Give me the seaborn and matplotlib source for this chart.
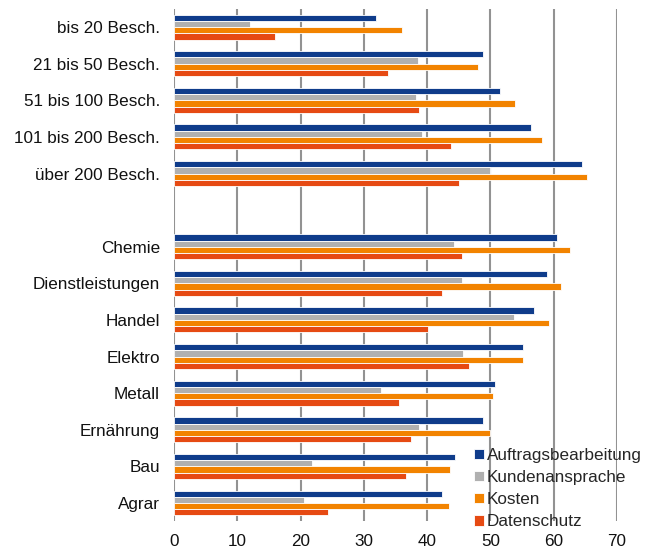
import pandas as pd
import seaborn as sns
import matplotlib.pyplot as plt
from matplotlib.ticker import MultipleLocator

categories = ['bis 20 Besch.', '21 bis 50 Besch.', '51 bis 100 Besch.', '101 bis 200 Besch.',
              'über 200 Besch.', '', 'Chemie', 'Dienstleistungen', 'Handel', 'Elektro',
              'Metall', 'Ernährung', 'Bau', 'Agrar']
series = ['Auftragsbearbeitung', 'Kundenansprache', 'Kosten', 'Datenschutz']

auftrag = [32.0, 48.8, 51.6, 56.4, 64.5, None, 60.5, 58.9, 56.9, 55.1, 50.7, 48.8, 44.4, 42.3]
kunden = [12.0, 38.6, 38.3, 39.2, 50.0, None, 44.2, 45.6, 53.7, 45.7, 32.7, 38.8, 21.8, 20.5]
kosten = [36.0, 48.0, 53.9, 58.2, 65.3, None, 62.6, 61.1, 59.3, 55.1, 50.4, 50.0, 43.7, 43.5]
datenschutz = [16.0, 33.9, 38.7, 43.8, 45.0, None, 45.6, 42.3, 40.2, 46.7, 35.5, 37.4, 36.6, 24.4]

colors = ['#0f3c8b', '#b0b0b0', '#f28300', '#e64a13']

rows = []
for name, vals in zip(series, [auftrag, kunden, kosten, datenschutz]):
    for cat, v in zip(categories, vals):
        if v is not None:
            rows.append({'Kategorie': cat, 'Wert': v, 'Reihe': name})
df = pd.DataFrame(rows)

sns.set_style('white')
plt.rcParams['font.family'] = ['Liberation Sans', 'DejaVu Sans']

fig = plt.figure(figsize=(6.59, 5.51), dpi=100)
ax = fig.add_axes([0.264, 0.054, 0.672, 0.930])
sns.barplot(data=df, y='Kategorie', x='Wert', hue='Reihe', order=categories,
            hue_order=series, palette=colors, orient='h', width=0.68, saturation=1,
            edgecolor='white', linewidth=0.6, ax=ax, legend=True)

ax.set_xlim(0, 70)
ax.set_ylim(len(categories) - 0.5, -0.5)
ax.xaxis.set_major_locator(MultipleLocator(10))
ax.grid(axis='x', color='#929292', linewidth=1.5)
ax.set_axisbelow(True)
for s in ax.spines.values():
    s.set_visible(False)
ax.set_xlabel('')
ax.set_ylabel('')
ax.tick_params(axis='both', length=0, labelsize=12.3, colors='#111111')
ax.tick_params(axis='y', pad=10)
ax.tick_params(axis='x', pad=9)

ax.legend(loc='lower left', bbox_to_anchor=(0.678, -0.016), frameon=False,
          fontsize=12.3, handlelength=0.55, handleheight=0.55, handletextpad=0.2,
          labelspacing=0.42, borderaxespad=0, borderpad=0)

fig.savefig('out.png', dpi=100)
